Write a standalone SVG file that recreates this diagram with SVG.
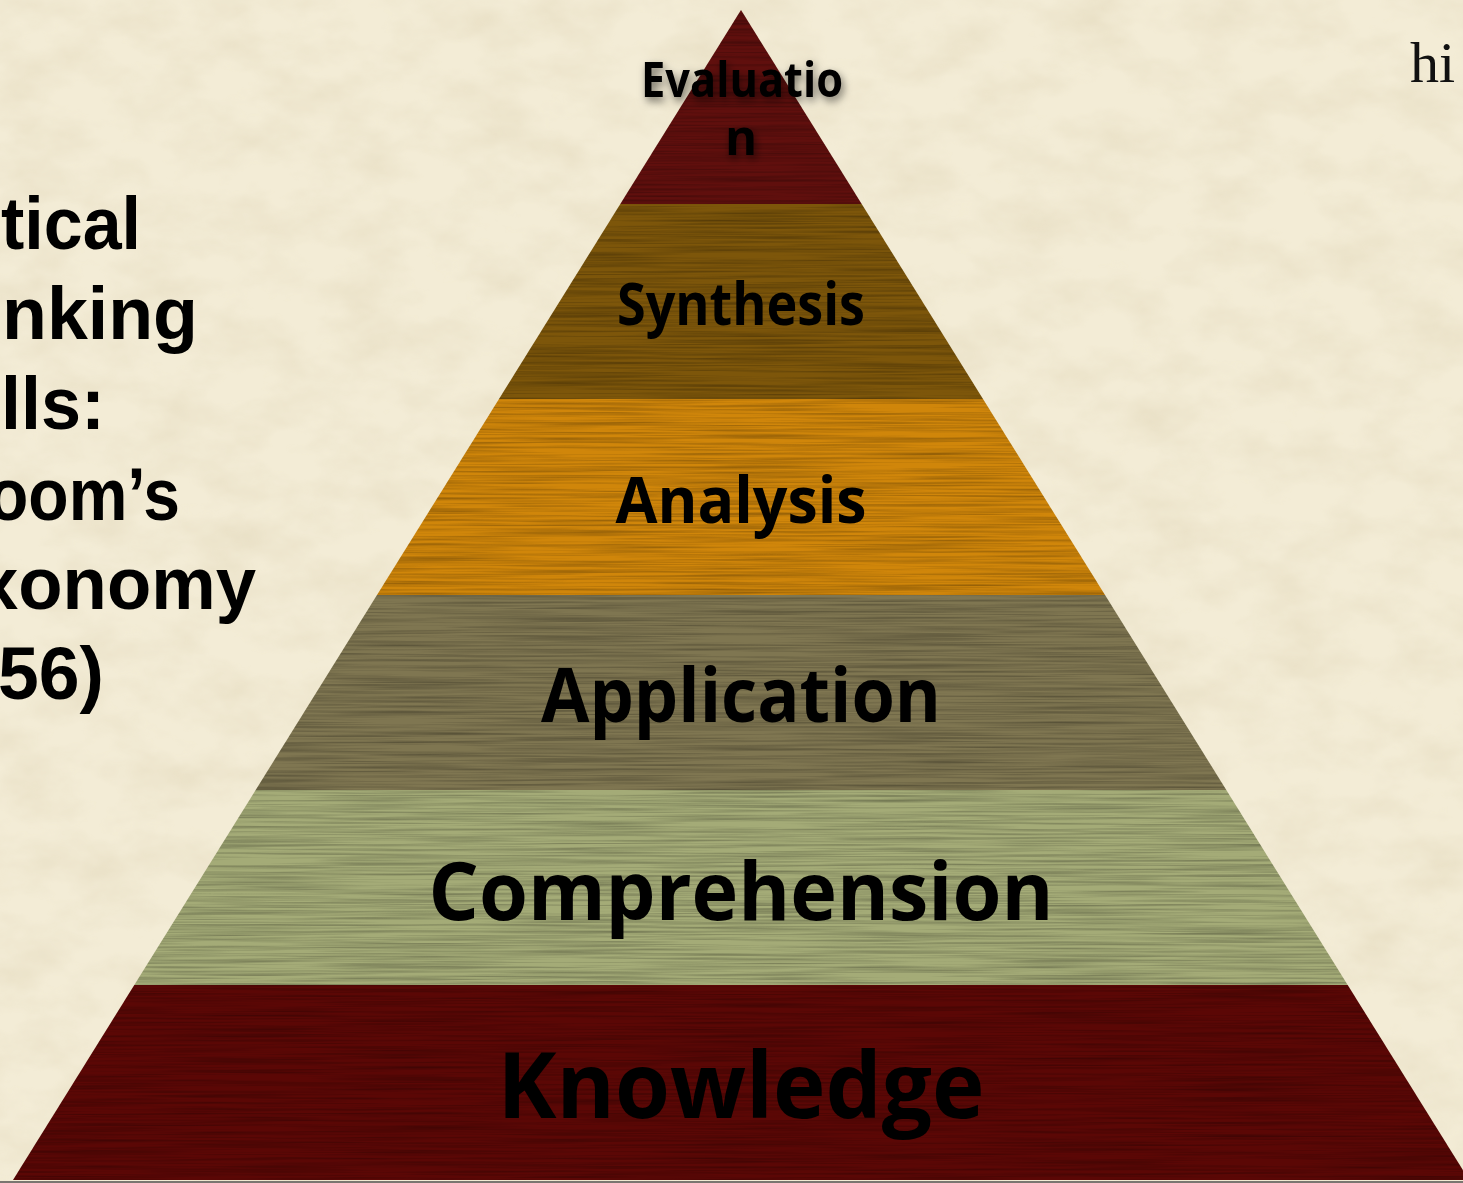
<svg xmlns="http://www.w3.org/2000/svg" width="1463" height="1183" viewBox="0 0 1463 1183">
  <defs>
    <style>
      .lvl { font-family: "Open Sans", "Noto Sans", "DejaVu Sans", sans-serif; font-weight: 700; fill: #000; text-anchor: middle; }
      .title { font-family: "Liberation Sans", Arial, sans-serif; font-weight: 700; font-size: 75px; fill: #000; }
      .serif { font-family: "Liberation Serif", "Times New Roman", serif; font-size: 58px; fill: #111; }
    </style>
    <!-- parchment mottling -->
    <filter id="paper" x="0" y="0" width="100%" height="100%">
      <feTurbulence type="fractalNoise" baseFrequency="0.015 0.025" numOctaves="4" seed="7" result="n"/>
      <feColorMatrix in="n" type="matrix" values="0 0 0 0 0.55  0 0 0 0 0.45  0 0 0 0 0.25  0.35 0 0 0 -0.13" result="m"/>
      <feComposite in="m" in2="SourceGraphic" operator="in"/>
    </filter>
    <!-- horizontal wood grain laid over the pyramid bands -->
    <filter id="grain" x="0" y="0" width="100%" height="100%">
      <feTurbulence type="fractalNoise" baseFrequency="0.006 0.45" numOctaves="3" seed="3" result="n"/>
      <feColorMatrix in="n" type="matrix" values="0 0 0 0 0  0 0 0 0 0  0 0 0 0 0  0.55 0 0 0 -0.2" result="a"/>
      <feComposite in="a" in2="SourceGraphic" operator="in"/>
    </filter>
    <filter id="shadow" x="-20%" y="-40%" width="140%" height="190%">
      <feDropShadow dx="2" dy="4" stdDeviation="4" flood-color="#000" flood-opacity="0.55"/>
    </filter>
  </defs>

  <!-- background -->
  <rect x="0" y="0" width="1463" height="1183" fill="#f3ecd6"/>
  <rect x="0" y="0" width="1463" height="1183" fill="#000" filter="url(#paper)"/>

  <!-- title, left side -->
  <g id="title">
    <text class="title" x="1" y="249" textLength="140" lengthAdjust="spacingAndGlyphs">tical</text>
    <text class="title" x="2" y="339" textLength="196" lengthAdjust="spacingAndGlyphs">nking</text>
    <text class="title" x="1" y="429" textLength="104" lengthAdjust="spacingAndGlyphs">lls:</text>
    <text class="title" x="-12" y="520" textLength="192" lengthAdjust="spacingAndGlyphs">oom’s</text>
    <text class="title" x="-22" y="609" textLength="278" lengthAdjust="spacingAndGlyphs">xonomy</text>
    <text class="title" x="-2" y="699" textLength="106" lengthAdjust="spacingAndGlyphs">56)</text>
  </g>

  <text class="serif" x="1410" y="82">hi</text>

  <!-- pyramid levels -->
  <g id="knowledge">
    <polygon points="134.3,985 1347.7,985 1469,1180 13,1180" fill="#5b0705"/>
  </g>
  <g id="comprehension">
    <polygon points="255.7,790 1226.3,790 1347.7,985 134.3,985" fill="#a4ab77"/>
  </g>
  <g id="application">
    <polygon points="377,595 1105,595 1226.3,790 255.7,790" fill="#7f7651"/>
  </g>
  <g id="analysis">
    <polygon points="499,399 983,399 1105,595 377,595" fill="#d0860a"/>
  </g>
  <g id="synthesis">
    <polygon points="620.3,204 861.7,204 983,399 499,399" fill="#7d560a"/>
  </g>
  <g id="evaluation">
    <polygon points="741,10 861.7,204 620.3,204" fill="#600f0d"/>
  </g>

  <!-- grain overlay across the whole pyramid -->
  <polygon points="741,10 1469,1180 13,1180" fill="#000" filter="url(#grain)"/>

  <!-- level labels -->
  <g id="labels">
    <text class="lvl" x="742" y="97" font-size="49" textLength="202" lengthAdjust="spacingAndGlyphs" filter="url(#shadow)">Evaluatio</text>
    <text class="lvl" x="741" y="155" font-size="49" filter="url(#shadow)">n</text>
    <text class="lvl" x="741" y="325" font-size="59" textLength="248" lengthAdjust="spacingAndGlyphs">Synthesis</text>
    <text class="lvl" x="741" y="523" font-size="65" textLength="251" lengthAdjust="spacingAndGlyphs">Analysis</text>
    <text class="lvl" x="741" y="722" font-size="76" textLength="400" lengthAdjust="spacingAndGlyphs">Application</text>
    <text class="lvl" x="741" y="920" font-size="81" textLength="625" lengthAdjust="spacingAndGlyphs">Comprehension</text>
    <text class="lvl" x="741" y="1118" font-size="92" textLength="487" lengthAdjust="spacingAndGlyphs">Knowledge</text>
  </g>

  <!-- slide bottom edge -->
  <rect x="0" y="1181" width="1463" height="2" fill="#7a7670"/>
</svg>
